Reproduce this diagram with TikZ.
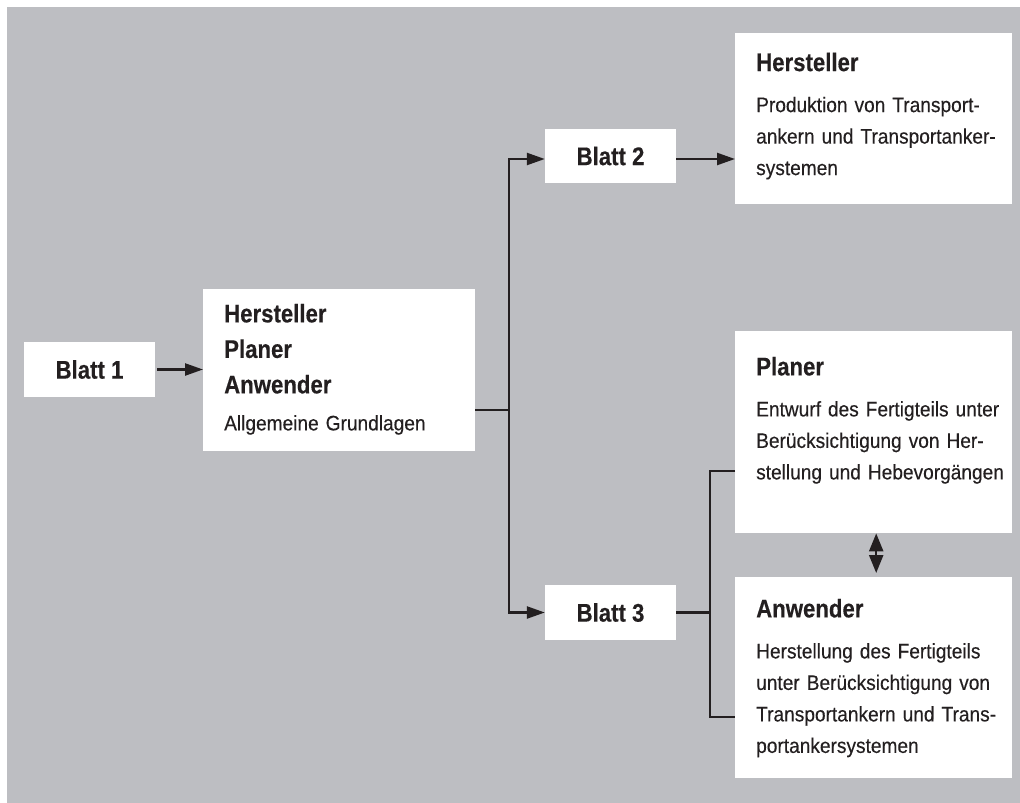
\documentclass[tikz,border=0pt]{standalone}
\usepackage{fontspec}
\setmainfont{Liberation Sans}[FakeStretch=0.91,FakeBold=0.3,BoldFeatures={FakeStretch=0.87,FakeBold=0.3}]
\usetikzlibrary{arrows.meta,calc,positioning}
\definecolor{ink}{HTML}{231F20}
\definecolor{panel}{HTML}{BDBEC2}
\tikzset{
  sheet/.style={fill=white,inner sep=0pt,minimum width=131pt,minimum height=55pt,text=ink,
    font=\bfseries\fontsize{25.5}{30}\selectfont},
  card/.style={fill=white,inner sep=0pt,anchor=north west,minimum width=277pt},
  cardtext/.style={anchor=north west,inner sep=0pt,text width=250pt,align=left,text=ink,
    font=\fontsize{21}{31.5}\selectfont},
  link/.style={draw=ink,line width=2.4pt},
  arr/.style={link,-{Triangle[length=18pt,width=12pt]}},
}
\newcommand{\cardhead}[1]{{\bfseries\fontsize{25.5}{31}\selectfont #1}\\[9.5pt]}
\begin{document}
\begin{tikzpicture}[x=1pt,y=-1pt]
\useasboundingbox (0,0) rectangle (1020,803);
\fill[white] (0,0) rectangle (1020,803);
\fill[panel] (7,7) rectangle (1021,804);
% sheets
\node[sheet] (b1) at (89.5,369.5) {Blatt 1};
\node[sheet,minimum height=54pt] (b2) at (610.5,156) {Blatt 2};
\node[sheet] (b3) at (610.5,612.5) {Blatt 3};
% boxes
\node[card,minimum width=272pt,minimum height=162pt] (main) at (203,289) {};
\node[cardtext,font=\fontsize{21}{35.5}\selectfont] (maintxt) at ([xshift=21pt,yshift=-14.7pt]main.north west)
  {{\bfseries\fontsize{25.5}{35.5}\selectfont Hersteller\\ Planer\\ Anwender}\\[1.5pt] Allgemeine Grundlagen};
\node[card,minimum height=171pt] (hst) at (735,33) {};
\node[cardtext] (hsttxt) at ([xshift=21pt,yshift=-19.4pt]hst.north west)
  {\cardhead{Hersteller}Produktion von Transport-\\ ankern und Transportanker-\\ systemen};
\node[card,minimum height=202pt] (pla) at (735,331) {};
\node[cardtext] (platxt) at ([xshift=21pt,yshift=-25.7pt]pla.north west)
  {\cardhead{Planer}Entwurf des Fertigteils unter\\ Berücksichtigung von Her-\\ stellung und Hebevorgängen};
\node[card,minimum height=201pt] (anw) at (735,577) {};
\node[cardtext] (anwtxt) at ([xshift=21pt,yshift=-21.7pt]anw.north west)
  {\cardhead{Anwender}Herstellung des Fertigteils\\ unter Berücksichtigung von\\ Transportankern und Trans-\\ portankersystemen};
% connectors
\draw[arr,shorten <=2pt] (b1.east) -- (b1.east -| main.west);
\coordinate (split) at (509,410);
\draw[link] (split -| main.east) -- (split);
\draw[arr] (split) |- ([yshift=-3pt]b2.west);
\draw[arr] (split) |- (b3.west);
\draw[arr] ([yshift=-3pt]b2.east) -- ([yshift=-3pt]b2.east -| hst.west);
\coordinate (brk) at (710,612.5);
\draw[link] ([yshift=-39pt]pla.west) -| (brk) |- ([yshift=-39.5pt]anw.west);
\draw[link] (b3.east) -- (brk);
\draw[link,{Triangle[length=18pt,width=14pt]}-{Triangle[length=18pt,width=14pt]},shorten >=4pt]
  ([xshift=2.5pt]pla.south) -- ([xshift=2.5pt]anw.north);
\end{tikzpicture}
\end{document}
